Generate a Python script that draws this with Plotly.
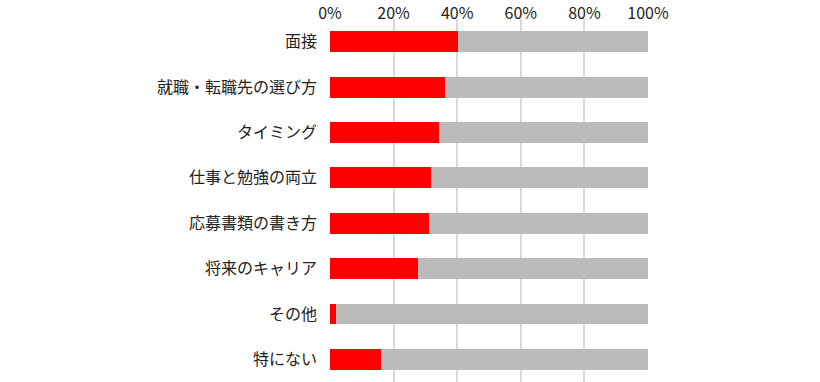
import plotly.graph_objects as go

categories = ["面接", "就職・転職先の選び方", "タイミング", "仕事と勉強の両立",
              "応募書類の書き方", "将来のキャリア", "その他", "特にない"]
selected = [40.2, 36.1, 34.3, 31.8, 31.0, 27.6, 1.8, 15.9]
rest = [100 - v for v in selected]
tick_vals = [0, 20, 40, 60, 80, 100]
tick_text = ["0%", "20%", "40%", "60%", "80%", "100%"]

font_family = "Noto Sans CJK JP, Noto Sans, sans-serif"

fig = go.Figure()
fig.add_trace(go.Bar(y=categories, x=selected, orientation="h",
                     marker=dict(color="#FF0000", line=dict(width=0)),
                     showlegend=False, hoverinfo="skip"))
fig.add_trace(go.Bar(y=categories, x=rest, orientation="h",
                     marker=dict(color="#BBBBBB", line=dict(width=0)),
                     showlegend=False, hoverinfo="skip"))

fig.update_layout(
    width=820, height=382,
    barmode="stack", bargap=0.54,
    margin=dict(l=330, r=172, t=17, b=0),
    paper_bgcolor="white", plot_bgcolor="white",
    font=dict(family=font_family, size=16, color="#222222"),
    xaxis=dict(side="top", range=[0, 100], tickvals=tick_vals, ticktext=tick_text,
               showgrid=True, gridcolor="#D9D9D9", gridwidth=1.5,
               zeroline=False, showline=False, ticks="", ticklen=0,
               ticklabelstandoff=-4,
               tickfont=dict(size=16, color="#222222")),
    yaxis=dict(categoryorder="array", categoryarray=categories, autorange="reversed",
               showgrid=False, zeroline=False, showline=False, ticks="",
               ticklabelstandoff=12,
               tickfont=dict(size=16, color="#222222")),
)

fig.write_html("out.html")
